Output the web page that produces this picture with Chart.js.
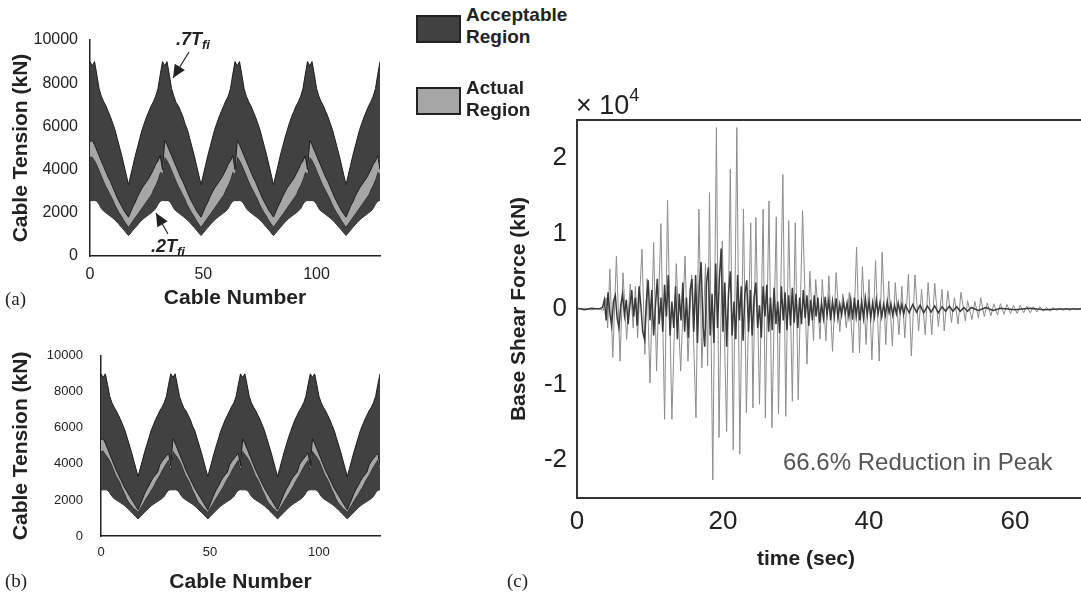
<!DOCTYPE html>
<html>
<head>
<meta charset="utf-8">
<script src="https://cdn.jsdelivr.net/npm/chart.js@4.4.1/dist/chart.umd.min.js"></script>
<style>
  html, body { margin: 0; padding: 0; background: #fff; overflow: hidden; width: 1081px; height: 594px; }
  body { position: relative; font-family: "Liberation Sans", Arial, Helvetica, sans-serif; color: #222; }
  canvas { position: absolute; }
  .txt { position: absolute; white-space: nowrap; line-height: 1; }
  .box { position: absolute; box-sizing: border-box; border: 2px solid #222; width: 45px; height: 28px; }
  .lbl { position: absolute; font-weight: bold; font-size: 19px; line-height: 22px; }
  .panel { position: absolute; font-family: "Liberation Serif", "Times New Roman", serif; font-size: 19px; line-height: 1; }
  .ann { position: absolute; font-weight: bold; font-style: italic; font-size: 18px; line-height: 1; white-space: nowrap; }
  .ann sub { font-size: 13px; vertical-align: -4px; }
</style>
</head>
<body>
<canvas id="chartA" width="400" height="320" style="left:0;top:0;width:400px;height:320px"></canvas>
<canvas id="chartB" width="400" height="266" style="left:0;top:330px;width:400px;height:266px"></canvas>
<canvas id="chartC" width="588" height="510" style="left:500px;top:80px;width:588px;height:510px"></canvas>

<div class="box" style="left:416px;top:15px;background:#414141"></div>
<div class="lbl" style="left:466px;top:4px">Acceptable<br>Region</div>
<div class="box" style="left:416px;top:87px;background:#a6a6a6"></div>
<div class="lbl" style="left:466px;top:77px">Actual<br>Region</div>

<div class="ann" style="left:176px;top:30px">.7T<sub>fi</sub></div>
<div class="ann" style="left:151px;top:237px">.2T<sub>fi</sub></div>

<div class="panel" style="left:5px;top:289px">(a)</div>
<div class="panel" style="left:5px;top:571px">(b)</div>
<div class="panel" style="left:507px;top:571px">(c)</div>

<div class="txt" style="left:576px;top:92px;font-size:27px">× 10<span style="font-size:18px;position:relative;top:-13px">4</span></div>
<div class="txt" style="left:783px;top:450px;font-size:24px;color:#555">66.6% Reduction in Peak</div>
<div class="txt" style="left:757px;top:547px;font-size:21px;font-weight:bold">time (sec)</div>

<script>
// ---- panel (a)/(b): cable tension bands, index = cable number 0..128 ----
const cableTicks = [0, 50, 100];
const tensionTicks = [0, 2000, 4000, 6000, 8000, 10000];

// .7 T_fi (upper edge of acceptable region)
const upper07 = [
  9000, 8800, 9000,
  8400, 7750, 7400, 7150, 6950, 6700, 6450, 6150, 5850, 5450, 5050, 4650, 4200, 3750, 3300,
  3750, 4200, 4650, 5050, 5450, 5850, 6150, 6450, 6700, 6950, 7150, 7400, 7750, 8400, 9000, 8800, 9000,
  8400, 7750, 7400, 7100, 6950, 6700, 6450, 6100, 5850, 5450, 5050, 4650, 4200, 3750, 3300,
  3750, 4200, 4650, 5050, 5450, 5850, 6150, 6450, 6700, 6950, 7200, 7400, 7750, 8400, 9000, 8800, 9000,
  8400, 7750, 7400, 7150, 6950, 6700, 6450, 6150, 5850, 5450, 5050, 4650, 4200, 3750, 3300,
  3750, 4200, 4650, 5050, 5450, 5800, 6150, 6450, 6700, 6950, 7150, 7400, 7750, 8400, 9000, 8800, 9000,
  8400, 7750, 7400, 7150, 6950, 6700, 6450, 6150, 5850, 5450, 5050, 4650, 4200, 3750, 3300,
  3750, 4200, 4650, 5050, 5450, 5850, 6150, 6450, 6700, 6950, 7150, 7400, 7750, 8400, 9000
];
// .2 T_fi (lower edge of acceptable region)
const lower02 = [
  2570, 2560, 2570,
  2540, 2400, 2200, 2080, 2000, 1920, 1840, 1760, 1670, 1560, 1440, 1320, 1200, 1070, 950,
  1070, 1200, 1320, 1440, 1560, 1670, 1760, 1840, 1920, 2000, 2080, 2200, 2400, 2540, 2570, 2560, 2570,
  2540, 2400, 2200, 2080, 2000, 1920, 1840, 1760, 1670, 1560, 1440, 1320, 1200, 1070, 950,
  1070, 1200, 1320, 1440, 1560, 1670, 1760, 1840, 1920, 2000, 2080, 2200, 2400, 2540, 2570, 2560, 2570,
  2540, 2400, 2200, 2080, 2000, 1920, 1840, 1760, 1670, 1560, 1440, 1320, 1200, 1070, 950,
  1070, 1200, 1320, 1440, 1560, 1670, 1760, 1840, 1920, 2000, 2080, 2200, 2400, 2540, 2570, 2560, 2570,
  2540, 2400, 2200, 2080, 2000, 1920, 1840, 1760, 1670, 1560, 1440, 1320, 1200, 1070, 950,
  1070, 1200, 1320, 1440, 1560, 1670, 1760, 1840, 1920, 2000, 2080, 2200, 2400, 2540, 2570
];

// actual region, panel (a)
const actualHighA = [
  5300,
  5350, 5150, 4900, 4650, 4400, 4150, 3900, 3650, 3450, 3200, 2950, 2700, 2500, 2300, 2100, 1950, 1800,
  2050, 2300, 2500, 2750, 2950, 3150, 3300, 3450, 3600, 3800, 4000, 4250, 4400, 4650, 4000,
  5350, 5150, 4900, 4650, 4400, 4150, 3900, 3650, 3450, 3200, 2950, 2700, 2500, 2300, 2100, 1950, 1800,
  2050, 2300, 2500, 2750, 2950, 3150, 3300, 3450, 3600, 3800, 4000, 4250, 4400, 4650, 4000,
  5350, 5150, 4900, 4650, 4400, 4150, 3900, 3650, 3450, 3200, 2950, 2700, 2500, 2300, 2100, 1950, 1800,
  2050, 2300, 2500, 2750, 2950, 3150, 3300, 3450, 3600, 3800, 4000, 4250, 4400, 4650, 4000,
  5350, 5150, 4900, 4650, 4400, 4150, 3900, 3650, 3450, 3200, 2950, 2700, 2500, 2300, 2100, 1950, 1800,
  2050, 2300, 2500, 2750, 2950, 3150, 3300, 3450, 3600, 3800, 4000, 4250, 4400, 4650, 4000
];
const actualLowA = [
  4600,
  4600, 4450, 4250, 4000, 3750, 3500, 3250, 3050, 2850, 2650, 2400, 2200, 2000, 1850, 1650, 1500, 1350,
  1500, 1650, 1800, 1950, 2100, 2250, 2400, 2550, 2700, 2850, 3100, 3300, 3550, 3900, 3800,
  4600, 4450, 4250, 4000, 3750, 3500, 3250, 3050, 2850, 2650, 2400, 2200, 2000, 1850, 1650, 1500, 1350,
  1500, 1650, 1800, 1950, 2100, 2250, 2400, 2550, 2700, 2850, 3100, 3300, 3550, 3900, 3800,
  4600, 4450, 4250, 4000, 3750, 3500, 3250, 3050, 2850, 2650, 2400, 2200, 2000, 1850, 1650, 1500, 1350,
  1500, 1650, 1800, 1950, 2100, 2250, 2400, 2550, 2700, 2850, 3100, 3300, 3550, 3900, 3800,
  4600, 4450, 4250, 4000, 3750, 3500, 3250, 3050, 2850, 2650, 2400, 2200, 2000, 1850, 1650, 1500, 1350,
  1500, 1650, 1800, 1950, 2100, 2250, 2400, 2550, 2700, 2850, 3100, 3300, 3550, 3900, 3800
];

// actual region, panel (b)
const actualHighB = [
  5350,
  5400, 5150, 4850, 4550, 4250, 3950, 3650, 3400, 3150, 2900, 2650, 2450, 2250, 2050, 1850, 1650, 1450,
  1750, 2050, 2350, 2600, 2800, 3050, 3250, 3400, 3550, 3950, 4150, 4300, 4450, 4600, 3900,
  5400, 5150, 4850, 4550, 4250, 3950, 3650, 3400, 3150, 2900, 2650, 2450, 2250, 2050, 1850, 1650, 1450,
  1750, 2050, 2350, 2600, 2800, 3050, 3250, 3400, 3550, 3950, 4150, 4300, 4450, 4600, 3900,
  5400, 5150, 4850, 4550, 4250, 3950, 3650, 3400, 3150, 2900, 2650, 2450, 2250, 2050, 1850, 1650, 1450,
  1750, 2050, 2350, 2600, 2800, 3050, 3250, 3400, 3550, 3950, 4150, 4300, 4450, 4600, 3900,
  5400, 5150, 4850, 4550, 4250, 3950, 3650, 3400, 3150, 2900, 2650, 2450, 2250, 2050, 1850, 1650, 1450,
  1750, 2050, 2350, 2600, 2800, 3050, 3250, 3400, 3550, 3950, 4150, 4300, 4450, 4600, 3900
];
const actualLowB = [
  4700,
  4750, 4550, 4400, 4200, 3950, 3650, 3350, 3150, 2900, 2600, 2350, 2050, 1850, 1700, 1550, 1450, 1350,
  1550, 1750, 1950, 2150, 2350, 2550, 2750, 3000, 3200, 3400, 3650, 3850, 4050, 4250, 3700,
  4750, 4550, 4400, 4200, 3950, 3650, 3350, 3150, 2900, 2600, 2350, 2050, 1850, 1700, 1550, 1450, 1350,
  1550, 1750, 1950, 2150, 2350, 2550, 2750, 3000, 3200, 3400, 3650, 3850, 4050, 4250, 3700,
  4750, 4550, 4400, 4200, 3950, 3650, 3350, 3150, 2900, 2600, 2350, 2050, 1850, 1700, 1550, 1450, 1350,
  1550, 1750, 1950, 2150, 2350, 2550, 2750, 3000, 3200, 3400, 3650, 3850, 4050, 4250, 3700,
  4750, 4550, 4400, 4200, 3950, 3650, 3350, 3150, 2900, 2600, 2350, 2050, 1850, 1700, 1550, 1450, 1350,
  1550, 1750, 1950, 2150, 2350, 2550, 2750, 3000, 3200, 3400, 3650, 3850, 4050, 4250, 3700
];

// ---- panel (c): base shear force, [time s, force x10^4 kN] ----
const timeTicks = [0, 20, 40, 60];
const shearTicks = [-2, -1, 0, 1, 2];

const uncontrolled = [
  [0, 0], [1, 0.01], [2, -0.01], [3, 0.01], [3.6, -0.02], [4.0, 0.15], [4.2, -0.25],
  [4.5, 0.53], [4.9, -0.64], [5.4, 0.70], [5.9, -0.69], [6.3, 0.48], [6.8, -0.40], [7.3, 0.33],
  [7.7, -0.25], [8.0, 0.30], [8.3, -0.38], [8.9, 0.79], [9.3, -0.60], [9.6, 0.40], [10.0, -0.98],
  [10.5, 0.88], [10.9, -0.82], [11.5, 1.13], [12.0, -1.46], [12.4, 1.44], [13.0, -1.46],
  [13.6, 0.60], [14.2, -0.82], [14.8, 0.70], [15.2, -0.69], [15.7, 0.45], [16.3, -1.44],
  [16.7, 1.32], [17.1, -0.78], [17.6, 0.60], [17.9, -0.75], [18.15, 1.54], [18.6, -2.26],
  [19.1, 2.40], [19.45, -1.70], [19.9, 0.90], [20.5, -1.62], [21.0, 1.85], [21.4, -1.86],
  [21.9, 2.40], [22.3, -1.92], [22.8, 1.32], [23.2, -1.37], [23.8, 1.14], [24.1, -1.31],
  [24.5, 1.21], [25.0, -1.26], [25.5, 1.32], [25.8, -1.44], [26.3, 1.43], [26.7, -1.57],
  [27.3, 1.22], [27.6, -1.39], [28.2, 1.78], [28.6, -1.42], [29.0, 1.17], [29.5, -1.22],
  [29.9, 1.14], [30.3, -1.20], [30.9, 1.30], [31.5, -0.73], [31.9, 0.50], [32.4, -0.42],
  [32.7, 0.39], [33.3, -0.40], [33.6, 0.39], [34.1, -0.42], [34.5, 0.44], [35.0, -0.56],
  [35.5, 0.48], [36.0, -0.30], [36.4, 0.20], [36.9, -0.25], [37.3, 0.22], [37.8, -0.58],
  [38.3, 0.82], [38.7, -0.58], [39.1, 0.56], [39.6, -0.47], [40.0, 0.39], [40.4, -0.67],
  [40.9, 0.64], [41.4, -0.69], [41.8, 0.75], [42.3, -0.47], [42.7, 0.37], [43.2, -0.49],
  [43.6, 0.35], [44.1, -0.34], [44.5, 0.30], [44.9, -0.38], [45.4, 0.46], [45.8, -0.62],
  [46.3, 0.45], [46.8, -0.29], [47.2, 0.26], [47.7, -0.34], [48.1, 0.35], [48.6, -0.34],
  [49.0, 0.34], [49.5, -0.23], [50.0, 0.26], [50.3, -0.29], [50.8, 0.24], [51.3, -0.18],
  [51.7, 0.15], [52.2, -0.20], [52.6, 0.22], [53.2, -0.16], [53.5, 0.11], [54.1, -0.14],
  [54.5, 0.10], [55.0, -0.12], [55.3, 0.15], [55.8, -0.10], [56.2, 0.08], [56.7, -0.09],
  [57.1, 0.07], [57.6, -0.08], [58.0, 0.07], [58.5, -0.07], [58.9, 0.06], [59.4, -0.06],
  [59.8, 0.05], [60.3, -0.06], [60.7, 0.05], [61.2, -0.05], [61.6, 0.04], [62.1, -0.05],
  [62.5, 0.03], [63.0, -0.04], [63.4, 0.03], [63.9, -0.03], [64.3, 0.02], [64.8, -0.03],
  [65.2, 0.02], [65.7, -0.02], [66.1, 0.01], [66.6, -0.02], [67.0, 0.01], [67.5, -0.02],
  [68.0, 0.01], [68.5, -0.01], [69.0, 0.01], [70, 0]
];

const controlled = [
  [0, 0.01], [1, -0.01], [2, 0.01], [3, 0], [3.5, 0.02], [3.75, 0.12], [4.0, -0.15], [4.25, 0.22],
  [4.5, -0.05], [4.75, -0.22], [5.0, 0.10], [5.25, 0.18], [5.5, -0.12], [5.75, -0.25], [6.0, 0.05],
  [6.25, 0.20], [6.5, -0.08], [6.75, 0.12], [7.0, -0.20], [7.25, 0.05], [7.5, 0.25], [7.75, -0.10],
  [8.0, 0.15], [8.25, -0.22], [8.5, 0.30], [8.75, 0.05], [9.0, -0.30], [9.25, -0.40], [9.5, 0.10],
  [9.75, 0.38], [10.0, -0.15], [10.25, 0.25], [10.5, -0.35], [10.75, 0.05], [11.0, 0.40],
  [11.25, -0.20], [11.5, 0.15], [11.75, -0.30], [12.0, 0.32], [12.25, -0.10], [12.5, 0.45],
  [12.75, -0.35], [13.0, 0.10], [13.25, -0.25], [13.5, 0.30], [13.75, -0.40], [14.0, 0.20],
  [14.25, -0.15], [14.5, 0.35], [14.75, -0.30], [15.0, 0.15], [15.25, -0.38], [15.5, 0.25],
  [15.75, 0.40], [16.0, -0.30], [16.25, 0.45], [16.5, -0.45], [16.75, 0.30], [17.0, 0.62],
  [17.25, -0.20], [17.5, -0.50], [17.75, 0.35], [18.0, 0.55], [18.25, -0.35], [18.5, 0.20],
  [18.75, -0.45], [19.0, 0.60], [19.25, -0.25], [19.5, 0.40], [19.75, 0.80], [20.0, -0.30],
  [20.25, 0.35], [20.5, -0.50], [20.75, 0.20], [21.0, 0.50], [21.25, -0.35], [21.5, 0.10],
  [21.75, -0.40], [22.0, 0.45], [22.25, -0.15], [22.5, 0.30], [22.75, -0.42], [23.0, 0.20],
  [23.25, 0.38], [23.5, -0.30], [23.75, 0.25], [24.0, -0.35], [24.25, 0.15], [24.5, 0.35],
  [24.75, -0.25], [25.0, 0.05], [25.25, -0.38], [25.5, 0.30], [25.75, -0.10], [26.0, 0.32],
  [26.25, -0.30], [26.5, 0.15], [26.75, -0.28], [27.0, 0.28], [27.25, -0.20], [27.5, 0.10],
  [27.75, -0.32], [28.0, 0.30], [28.25, -0.15], [28.5, 0.22], [28.75, -0.28], [29.0, 0.18],
  [29.25, -0.22], [29.5, 0.28], [29.75, -0.18], [30.0, 0.20], [30.25, -0.25], [30.5, 0.15],
  [30.75, -0.20], [31.0, 0.25], [31.25, -0.12], [31.5, 0.18], [31.75, -0.22], [32.0, 0.12],
  [32.25, -0.15], [32.5, 0.18], [32.75, -0.10], [33.0, 0.15], [33.25, -0.18], [33.5, 0.08],
  [33.75, -0.12], [34.0, 0.16], [34.25, -0.08], [34.5, 0.12], [34.75, -0.15], [35.0, 0.10],
  [35.25, -0.10], [35.5, 0.14], [35.75, -0.12], [36.0, 0.06], [36.25, -0.08], [36.5, 0.10],
  [36.75, -0.06], [37.0, 0.08], [37.25, -0.10], [37.5, 0.12], [37.75, -0.14], [38.0, 0.15],
  [38.25, -0.10], [38.5, 0.12], [38.75, -0.15], [39.0, 0.10], [39.25, -0.12], [39.5, 0.14],
  [39.75, -0.08], [40.0, 0.10], [40.25, -0.12], [40.5, 0.08], [40.75, -0.10], [41.0, 0.12],
  [41.25, -0.06], [41.5, 0.08], [41.75, -0.10], [42.0, 0.06], [42.25, -0.08], [42.5, 0.10],
  [42.75, -0.05], [43.0, 0.07], [43.25, -0.08], [43.5, 0.05], [43.75, -0.06], [44.0, 0.08],
  [44.25, -0.05], [44.5, 0.06], [44.75, -0.07], [45.0, 0.05], [45.5, -0.05], [46.0, 0.06],
  [46.5, -0.04], [47.0, 0.05], [47.5, -0.05], [48.0, 0.04], [48.5, -0.04], [49.0, 0.04],
  [49.5, -0.05], [50.0, 0.03], [50.5, -0.03], [51.0, 0.04], [51.5, -0.03], [52.0, 0.03],
  [52.5, -0.03], [53.0, 0.02], [53.5, -0.03], [54.0, 0.02], [55.0, -0.02], [56.0, 0.02],
  [57.0, -0.02], [58.0, 0.01], [60.0, -0.01], [62.0, 0.01], [64.0, -0.01], [66.0, 0], [70.0, 0]
];

const FONT = '"Liberation Sans", Arial, Helvetica, sans-serif';
const INK = '#222';

function byIndex(values) {
  return values.map((v, i) => ({ x: i, y: v }));
}
function byPair(pairs) {
  return pairs.map(p => ({ x: p[0], y: p[1] }));
}
function fixedTicks(list) {
  return scale => { scale.ticks = list.map(v => ({ value: v })); };
}

// arrows for the .7T / .2T annotations (pixel positions on canvas A)
const arrowPlugin = {
  id: 'arrows',
  afterDraw(chart) {
    const ctx = chart.ctx;
    const arrows = [[189, 52, 173, 78], [168, 234, 156, 213]];
    ctx.save();
    ctx.strokeStyle = INK;
    ctx.fillStyle = INK;
    ctx.lineWidth = 1.2;
    arrows.forEach(([x1, y1, x2, y2]) => {
      const a = Math.atan2(y2 - y1, x2 - x1);
      ctx.beginPath();
      ctx.moveTo(x1, y1);
      ctx.lineTo(x2, y2);
      ctx.stroke();
      ctx.beginPath();
      ctx.moveTo(x2, y2);
      ctx.lineTo(x2 - 13 * Math.cos(a) + 6 * Math.sin(a), y2 - 13 * Math.sin(a) - 6 * Math.cos(a));
      ctx.lineTo(x2 - 13 * Math.cos(a) - 6 * Math.sin(a), y2 - 13 * Math.sin(a) + 6 * Math.cos(a));
      ctx.closePath();
      ctx.fill();
    });
    ctx.restore();
  }
};

// box around panel (c)
const framePlugin = {
  id: 'frame',
  afterDraw(chart) {
    const { ctx, chartArea: a } = chart;
    ctx.save();
    ctx.strokeStyle = '#333';
    ctx.lineWidth = 2;
    ctx.strokeRect(a.left, a.top, a.right - a.left, a.bottom - a.top);
    ctx.restore();
  }
};

function cableChart(id, highAct, lowAct, L) {
  return new Chart(document.getElementById(id), {
    type: 'line',
    data: {
      datasets: [
        { data: byIndex(highAct), fill: '+1', backgroundColor: '#a6a6a6', borderColor: '#1c1c1c', borderWidth: 1 },
        { data: byIndex(lowAct), fill: false, borderColor: '#1c1c1c', borderWidth: 1 },
        { data: byIndex(upper07), fill: '+1', backgroundColor: '#414141', borderColor: '#1c1c1c', borderWidth: 1 },
        { data: byIndex(lower02), fill: false, borderColor: '#1c1c1c', borderWidth: 1 }
      ]
    },
    options: {
      responsive: false,
      animation: false,
      devicePixelRatio: 1,
      layout: { padding: { top: L.top, right: L.right, bottom: 0, left: 0 } },
      elements: { point: { radius: 0 }, line: { tension: 0 } },
      plugins: { legend: { display: false }, tooltip: { enabled: false } },
      scales: {
        x: {
          type: 'linear', min: 0, max: 128,
          afterBuildTicks: fixedTicks(cableTicks),
          afterFit: s => { s.height = L.xh; },
          grid: { display: false, drawTicks: false },
          border: { color: INK, width: 1.5 },
          ticks: { font: { family: FONT, size: L.tick }, color: INK, padding: L.xpad, maxRotation: 0, callback: v => String(v) },
          title: { display: true, text: 'Cable Number', color: INK, font: { family: FONT, size: 21, weight: 'bold' }, padding: { top: 0, bottom: L.xtp } }
        },
        y: {
          type: 'linear', min: 0, max: 10000,
          afterBuildTicks: fixedTicks(tensionTicks),
          afterFit: s => { s.width = L.yw; },
          grid: { display: false, drawTicks: false },
          border: { color: INK, width: 1.5 },
          ticks: { font: { family: FONT, size: L.tick }, color: INK, padding: L.ypad, callback: v => String(v) },
          title: { display: true, text: 'Cable Tension (kN)', color: INK, font: { family: FONT, size: 21, weight: 'bold' }, padding: { top: 9, bottom: 0 } }
        }
      }
    },
    plugins: L.plugins
  });
}

cableChart('chartA', actualHighA, actualLowA,
  { top: 40, right: 20, xh: 64, yw: 90, tick: 16, xpad: 9, ypad: 12, xtp: 9, plugins: [arrowPlugin] });
cableChart('chartB', actualHighB, actualLowB,
  { top: 23, right: 20, xh: 60, yw: 101, tick: 13, xpad: 9, ypad: 18, xtp: 1, plugins: [] });

new Chart(document.getElementById('chartC'), {
  type: 'line',
  data: {
    datasets: [
      { data: byPair(controlled), borderColor: '#3a3a3a', borderWidth: 1.5, fill: false },
      { data: byPair(uncontrolled), borderColor: '#8c8c8c', borderWidth: 1, fill: false }
    ]
  },
  options: {
    responsive: false,
    animation: false,
    devicePixelRatio: 1,
    layout: { padding: { top: 40, right: 0, bottom: 0, left: 0 } },
    elements: { point: { radius: 0 }, line: { tension: 0 } },
    plugins: { legend: { display: false }, tooltip: { enabled: false } },
    scales: {
      x: {
        type: 'linear', min: 0, max: 70,
        afterBuildTicks: fixedTicks(timeTicks),
        afterFit: s => { s.height = 92; },
        grid: { display: false, drawTicks: false },
        border: { color: '#333', width: 2 },
        ticks: { font: { family: FONT, size: 26 }, color: INK, padding: 8, maxRotation: 0, callback: v => String(v) }
      },
      y: {
        type: 'linear', min: -2.5, max: 2.5,
        afterBuildTicks: fixedTicks(shearTicks),
        afterFit: s => { s.width = 77; },
        grid: { display: false, drawTicks: false },
        border: { color: '#333', width: 2 },
        ticks: { font: { family: FONT, size: 26 }, color: INK, padding: 10, callback: v => String(v) },
        title: { display: true, text: 'Base Shear Force (kN)', color: INK, font: { family: FONT, size: 21, weight: 'bold' }, padding: { top: 7, bottom: 0 } }
      }
    }
  },
  plugins: [framePlugin]
});
</script>
</body>
</html>
